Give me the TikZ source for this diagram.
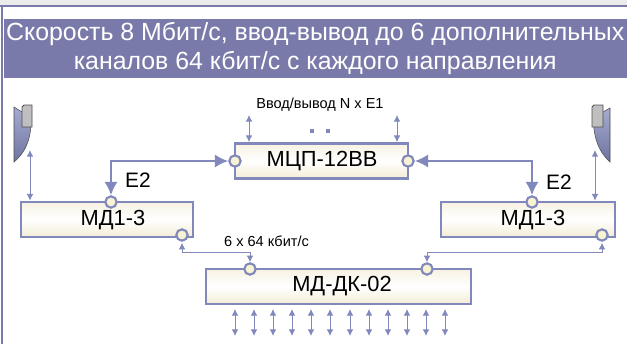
\documentclass[tikz,border=0pt]{standalone}
\usepackage{fontspec}
\setmainfont{Liberation Sans}
\usepackage{tikz}
\usetikzlibrary{positioning,arrows.meta}
\definecolor{lineblue}{HTML}{8088BC}
\definecolor{bandblue}{HTML}{7A7AAA}
\definecolor{boxcream}{HTML}{F3ECD6}
\definecolor{ringfill}{HTML}{F8F3D2}

\begin{document}
\begin{tikzpicture}[
      x=0.75pt,y=-0.75pt,
      box/.style ={draw=lineblue,line width=2.1pt,top color=boxcream!70,bottom color=boxcream,middle color=white,inner sep=0pt},
      boxtext/.style={font=\fontsize{16.4}{19}\selectfont,inner sep=0pt},
      ring/.style={circle,draw=lineblue,line width=1.6pt,fill=ringfill,minimum size=8.5pt,inner sep=0pt},
      thin/.style={draw=lineblue,line width=0.7pt,{Latex[length=5pt,width=5pt]}-{Latex[length=5pt,width=5pt]}},
      fat/.style ={draw=lineblue,line width=2.1pt,{Latex[length=10pt,width=10pt]}-{Latex[length=10pt,width=10pt]}},
      small/.style={font=\fontsize{10.9}{13}\selectfont,inner sep=0pt},
      big/.style={font=\fontsize{15.7}{18}\selectfont,inner sep=0pt},
      dish/.style={draw=black!70,line width=0.4pt,top color=lineblue!70,middle color=white,bottom color=lineblue!85!black},
      feed/.style={draw=black!70,line width=0.7pt,left color=black!25,middle color=white,right color=black!25},
      dot/.style={fill=lineblue,inner sep=0pt,minimum size=2.4pt}]
      \useasboundingbox (0,0) rectangle (627,344);
      % Frame
      \fill[black!8] (0,0) rectangle (627,4.5);
      \fill[bandblue] (0,4.5) rectangle (627,6.5);
      \fill[bandblue] (1,4.5) rectangle (3,344);
      % Title
      \node[fill=bandblue,text=white,minimum width=622.5*0.75pt,minimum height=59*0.75pt,inner sep=0pt,align=center,
            font=\fontsize{18.65}{21.7}\selectfont] (title) at (315.25,48.5)
            {Скорость 8 Мбит/с, ввод-вывод до 6 дополнительных\\каналов 64 кбит/с с каждого направления};
      % Modules
      \node[box,minimum width=173*0.75pt,minimum height=35*0.75pt] (mcp) at (321.5,161) {};
      \node[box,minimum width=172*0.75pt,minimum height=35*0.75pt] (mdl) at (107,219.5) {};
      \node[box,minimum width=174*0.75pt,minimum height=35*0.75pt] (mdr) at (528,219.5) {};
      \node[box,minimum width=265*0.75pt,minimum height=35*0.75pt] (dk) at (338.5,286.5) {};
      \node[boxtext] (mcptext) at (322,161) {МЦП-12ВВ};
      \node[boxtext] (mdltext) at (113,220) {МД1-3};
      \node[boxtext] (mdrtext) at (533,220) {МД1-3};
      \node[boxtext] (dktext) at (342,286) {МД-ДК-02};
      % Rings
      \node[ring] (mcpW) at (235,161) {};
      \node[ring] (mcpE) at (408,161) {};
      \node[ring] (mdlN) at (111,202) {};
      \node[ring] (mdrN) at (532,202) {};
      \node[ring] (mdlS) at (182,235) {};
      \node[ring] (mdrS) at (602,235) {};
      \node[ring] (dkW) at (250,269) {};
      \node[ring] (dkE) at (427,269) {};
      % E2
      \draw[fat] (mcpW) -- (mdlN |- mcpW) -- (mdlN);
      \draw[fat] (mcpE) -- (mdrN |- mcpE) -- (mdrN);
      \node[big] (e2l) at (138,180) {E2};
      \node[big] (e2r) at (559,182) {E2};
      % Local links
      \draw[thin] (mdlS.south) ++(0,1) coordinate (b) -- (b |- 0,252) -- (250,252) -- (dkW.north);
      \draw[thin] (mdrS.south) ++(0,1) coordinate (c) -- (c |- 0,252) -- (427,252) -- (dkE.north);
      \node[small] (rate) at (266.5,241) {6 x 64 кбит/с};
      % Top E1
      \coordinate (e1a) at (249,115);
      \coordinate (e1b) at (397,115);
      \draw[thin] (e1a) -- (e1a |- mcp.north);
      \draw[thin] (e1b) -- (e1b |- mcp.north);
      \node[small] (e1) at (320,105) {Ввод/вывод N x E1};
      \node[dot] (dot1) at (312,131) {};
      \node[dot] (dot2) at (328,131) {};
      % Bottom channels
      \foreach \px in {235,254,273,292,311,330,350,369,388,407,426,445}{
        \draw[thin] (\px,309) -- (\px,336);
      }
      % Antennas
      \path[dish] (14,107) -- (22,112) -- (31,112) .. controls (32,135) and (28,150) .. (14,162) -- cycle;
      \path[feed] (22,107) -- (24,105) -- (32,105) -- (32,127) -- (22,127) -- cycle;
      \path[dish] (610,108) -- (603,112) -- (593,112) .. controls (593,135) and (597,150) .. (610,162) -- cycle;
      \path[feed] (592,127) -- (592,107) -- (594,105) -- (603,105) -- (603,127) -- cycle;
      \coordinate (antl) at (30,150);
      \coordinate (antr) at (595,150);
      \draw[thin] (antl) -- (antl |- mdl.north);
      \draw[thin] (antr) -- (antr |- mdr.north);
\end{tikzpicture}
\end{document}
